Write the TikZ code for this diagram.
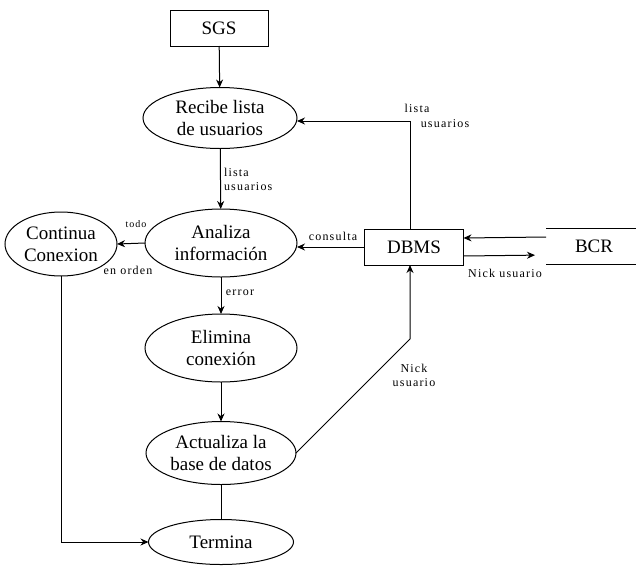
\documentclass[tikz,border=0pt]{standalone}
\usepackage{fontspec}
\setmainfont{Liberation Serif}
\newfontfamily\serifbody{Liberation Serif}
\newfontfamily\lblfont[LetterSpace=10]{Liberation Serif}
\usetikzlibrary{shapes.geometric,arrows.meta}
\begin{document}
\begin{tikzpicture}[x=1pt,y=-1pt,
  every node/.style={inner sep=0pt, outer sep=0pt},
  bigtext/.style={font=\serifbody\fontsize{19}{22}\selectfont},
  proc/.style={draw, line width=1pt, ellipse, align=center, bigtext},
  ext/.style={draw, line width=1pt, rectangle, align=center, bigtext},
  lbl/.style={font=\lblfont\fontsize{12}{14}\selectfont, align=left},
  flow/.style={line width=1pt, -{Stealth[length=8pt,width=7pt]}},
  plain/.style={line width=1pt}]
\useasboundingbox (0,0) rectangle (636,565);

% external entities and processes
\node[ext, minimum width=98pt, minimum height=36pt] (sgs) at (219,28) {SGS};
\node[proc, minimum width=154pt, minimum height=61pt] (recibe) at (220,118) {Recibe lista\\de usuarios};
\node[proc, minimum width=152pt, minimum height=68pt] (analiza) at (221,243) {Analiza\\información};
\node[proc, minimum width=112pt, minimum height=64pt] (continua) at (61,244) {Continua\\Conexion};
\node[proc, minimum width=152pt, minimum height=68pt] (elimina) at (221,348) {Elimina\\conexión};
\node[proc, minimum width=150pt, minimum height=63pt] (actualiza) at (221,453) {Actualiza la\\base de datos};
\node[proc, minimum width=145pt, minimum height=45pt] (termina) at (221,542) {Termina};
\node[ext, minimum width=99pt, minimum height=36pt] (dbms) at (414,247) {DBMS};

% data store BCR: open-ended box drawn with two rules
\node[rectangle, minimum width=90pt, minimum height=36pt, anchor=west] (bcr) at (546,246) {};
\node[bigtext] (bcrtext) at (594,246) {BCR};
\draw[plain] (bcr.north west) -- (bcr.north east);
\draw[plain] (bcr.south west) -- (bcr.south east);

% bend points
\coordinate (dbmsup) at (410,121);
\coordinate (nickbend) at (410,339);

% flows
\draw[flow] (sgs) -- (recibe);
\draw[flow] (recibe) -- (analiza);
\draw[flow] (analiza.west) -- (continua.east);
\draw[flow] (analiza) -- (elimina);
\draw[flow] (elimina) -- (actualiza);
\draw[plain] (actualiza) -- (termina);
\draw[flow] (continua.south) |- (termina.west);
\draw[flow] (dbms.west) -- (analiza.east |- dbms.west);
\draw[flow] (dbms.north -| dbmsup) -- (dbmsup) -- (recibe.east |- dbmsup);
\draw[flow] (actualiza.east) -- (nickbend) -- (dbms.south -| nickbend);
\draw[flow] ([yshift=9pt]bcr.west) -- ([yshift=9pt]dbms.east);
\draw[flow, shorten >=11pt] ([yshift=-9pt]dbms.east) -- ([yshift=-9pt]bcr.west);

% flow labels
\node[lbl] (l1a) at (417,108) {lista};
\node[lbl] (l1b) at (445,124) {usuarios};
\node[lbl, anchor=west] (l2) at (224,179) {lista\\usuarios};
\node[lbl] (l3) at (333,236) {consulta};
\node[lbl, font=\lblfont\fontsize{10}{12}\selectfont] (l4) at (136,224) {todo};
\node[lbl] (l5) at (128,270) {en orden};
\node[lbl] (l6) at (240,293) {error};
\node[lbl, align=center] (l7) at (414,375) {Nick\\usuario};
\node[lbl] (l8) at (505,273) {Nick usuario};
\end{tikzpicture}
\end{document}
